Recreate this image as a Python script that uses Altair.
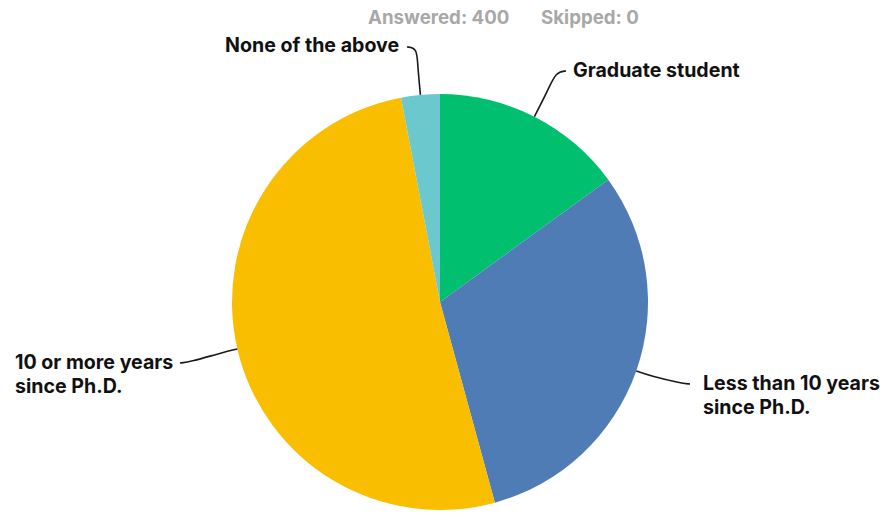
import math
import altair as alt
import pandas as pd

# ---- data ----
categories = ["Graduate student", "Less than 10 years since Ph.D.",
              "10 or more years since Ph.D.", "None of the above"]
counts = [60, 123, 205, 12]
skipped = 0
colors = ["#00BF6F", "#507CB6", "#F9BE00", "#6BC8CD"]
label_lines = [["Graduate student"], ["Less than 10 years", "since Ph.D."],
               ["10 or more years", "since Ph.D."], ["None of the above"]]

# ---- layout ----
W, H = 880, 515
CX, CY, R = 440, 302, 208
FONT = "Inter"
label_anchor = [(573, 71), (703, 384), (15, 363), (225, 46)]   # left x, first-line y
leader_end = [(566, 71), (690, 384), (180, 363), (407, 47)]
leader_ext = [30, 15, 15, 30]
LINE_H = 24

df = pd.DataFrame({"cat": categories, "count": counts, "idx": list(range(len(counts)))})
total = sum(counts)

# mid angles (clockwise from 12 o'clock)
mids = []
acc = 0
for c in counts:
    mids.append((acc + c / 2) / total * 2 * math.pi)
    acc += c

lab_rows = []
for i, lines in enumerate(label_lines):
    for j, t in enumerate(lines):
        lab_rows.append({"x": label_anchor[i][0], "y": label_anchor[i][1] + j * LINE_H, "t": t})
labels = pd.DataFrame(lab_rows)

lead_rows = []
for i, a in enumerate(mids):
    sx, sy = CX + R * math.sin(a), CY - R * math.cos(a)
    dx, dy = math.sin(a), -math.cos(a)
    ex, ey = leader_end[i]
    p1 = (sx + dx * leader_ext[i], sy + dy * leader_ext[i])
    horiz = 1 if ex > sx else -1
    p2 = (ex - horiz * 10, ey + (1 if sy > ey else -1) * 1)
    for k, (px, py) in enumerate([(sx, sy), p1, p2, (ex, ey)]):
        lead_rows.append({"cat": categories[i], "k": k, "x": px, "y": py})
leads = pd.DataFrame(lead_rows)

header = pd.DataFrame({"x": [368, 541], "y": [18, 18],
                       "t": [f"Answered: {total}", f"Skipped: {skipped}"]})

xs = alt.Scale(domain=[0, W], range=[0, W])
ys = alt.Scale(domain=[0, H], range=[0, H])

pie = alt.Chart(df).mark_arc(outerRadius=R).encode(
    theta=alt.Theta("count:Q", stack=True),
    color=alt.Color("cat:N", scale=alt.Scale(domain=categories, range=colors), legend=None),
    order=alt.Order("idx:Q"),
    x=alt.value(CX), y=alt.value(CY),
)

lines_layer = alt.Chart(leads).mark_line(interpolate="basis", color="#1a1a1a", strokeWidth=1.6).encode(
    x=alt.X("x:Q", scale=xs, axis=None),
    y=alt.Y("y:Q", scale=ys, axis=None),
    detail="cat:N",
    order="k:Q",
)

text_layer = alt.Chart(labels).mark_text(align="left", baseline="middle", font=FONT,
                                         fontSize=19.6, fontWeight="bold", color="#111111").encode(
    x=alt.X("x:Q", scale=xs, axis=None),
    y=alt.Y("y:Q", scale=ys, axis=None),
    text="t:N",
)

head_layer = alt.Chart(header).mark_text(align="left", baseline="middle", font=FONT,
                                         fontSize=18.7, fontWeight="bold", color="#A8A8A8").encode(
    x=alt.X("x:Q", scale=xs, axis=None),
    y=alt.Y("y:Q", scale=ys, axis=None),
    text="t:N",
)

chart = alt.layer(pie, lines_layer, text_layer, head_layer).properties(
    width=W, height=H, padding=0,
    autosize=alt.AutoSizeParams(type="fit", contains="padding"),
).configure_view(stroke=None)

chart.save("out.html", embed_options={"renderer": "svg", "actions": False})
